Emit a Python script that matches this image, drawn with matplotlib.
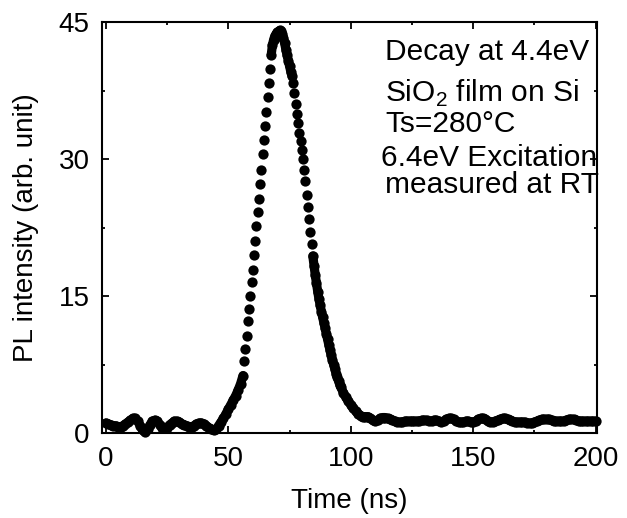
#
# PL decay trace of the 4.4 eV band (SiO2 film on Si)
#
import numpy as np
import matplotlib
matplotlib.use("Agg")
import matplotlib.pyplot as plt
from matplotlib.ticker import MultipleLocator

plt.rcParams["font.family"] = ["Liberation Sans", "DejaVu Sans"]
plt.rcParams["mathtext.fontset"] = "custom"
plt.rcParams["mathtext.rm"] = "Liberation Sans"

# Data
##########################################################################################

# baseline and start of the rise, 1 ns steps
t_rise = list(range(0, 56))
v_rise = [1.1, 1.0, 0.9, 0.8, 0.8, 0.7, 0.7, 0.8, 1.0, 1.2,
          1.4, 1.6, 1.6, 1.3, 0.8, 0.3, 0.1, 0.4, 0.9, 1.3,
          1.4, 1.3, 0.9, 0.6, 0.5, 0.6, 0.9, 1.1, 1.3, 1.3,
          1.2, 1.0, 0.9, 0.8, 0.7, 0.7, 0.8, 1.0, 1.1, 1.1,
          1.0, 0.8, 0.6, 0.4, 0.3, 0.4, 0.8, 1.2, 1.6, 2.1,
          2.6, 3.1, 3.6, 4.1, 4.7, 5.4]

# pulse, 0.5 ns steps (56 .. 95.5 ns)
t_pulse = [56 + 0.5 * k for k in range(80)]
v_pulse = [6.3, 7.9, 9.2, 10.6, 12.3, 13.6, 15.0, 16.6, 17.9, 19.5,
           21.0, 22.7, 24.2, 25.6, 27.3, 28.8, 30.6, 32.1, 33.6, 35.2,
           36.8, 38.3, 39.9, 41.4, 42.5, 43.1, 43.5, 43.7, 43.9, 44.0,
           44.1, 44.0, 43.7, 43.3, 42.7, 42.0, 41.4, 40.8, 40.2, 39.6,
           39.1, 38.3, 37.2, 36.1, 35.0, 34.0, 32.9, 32.0, 31.0, 30.0,
           28.8, 27.6, 26.1, 24.8, 23.4, 22.0, 20.7, 19.4, 18.3, 17.3,
           16.4, 15.5, 14.7, 14.0, 13.3, 12.7, 12.1, 11.5, 10.9, 10.3,
           9.7, 9.1, 8.5, 8.0, 7.5, 7.0, 6.5, 6.1, 5.7, 5.3]

# tail, 1 ns steps (96 .. 200 ns)
t_tail = list(range(96, 201))
v_tail = [5.0, 4.4, 3.9, 3.5, 3.1, 2.7, 2.4, 2.1, 1.9, 1.8,
          1.8, 1.8, 1.6, 1.4, 1.3, 1.4, 1.6, 1.7, 1.7, 1.6,
          1.5, 1.4, 1.3, 1.2, 1.2, 1.2, 1.3, 1.3, 1.3, 1.3,
          1.3, 1.3, 1.3, 1.4, 1.4, 1.4, 1.3, 1.3, 1.4, 1.4,
          1.3, 1.2, 1.3, 1.5, 1.6, 1.6, 1.5, 1.3, 1.2, 1.2,
          1.2, 1.3, 1.3, 1.2, 1.2, 1.3, 1.5, 1.6, 1.6, 1.5,
          1.3, 1.2, 1.2, 1.3, 1.4, 1.5, 1.6, 1.6, 1.5, 1.4,
          1.3, 1.2, 1.2, 1.2, 1.2, 1.2, 1.1, 1.1, 1.1, 1.2,
          1.3, 1.4, 1.5, 1.5, 1.5, 1.5, 1.4, 1.3, 1.3, 1.3,
          1.3, 1.3, 1.4, 1.5, 1.5, 1.5, 1.4, 1.3, 1.3, 1.3,
          1.3, 1.3, 1.3, 1.3, 1.3]

labels = ["Decay at 4.4eV", r"SiO$_2$ film on Si", "Ts=280\u00b0C",
          "6.4eV Excitation", "measured at RT"]

# Plot
##########################################################################################

t = np.array(t_rise + t_pulse + t_tail, dtype=float)
v = np.array(v_rise + v_pulse + v_tail)

fig = plt.figure(figsize=(6.27, 5.18), dpi=100)
ax = fig.add_axes([0.163, 0.164, 0.789, 0.793])

# where the printed dots ran together into a solid band
for lo, hi in [(0, 56), (67.5, 76), (84.5, 200)]:
    m = (t >= lo) & (t <= hi)
    ax.plot(t[m], v[m], "-", color="black", lw=6.6, solid_capstyle="round",
            solid_joinstyle="round", clip_on=False)
ax.plot(t, v, "o", color="black", markersize=7.4, markeredgewidth=0, clip_on=False)

ax.set_xlim(-1.5, 200.5)
ax.set_ylim(0, 45)
ax.xaxis.set_major_locator(MultipleLocator(50))
ax.xaxis.set_minor_locator(MultipleLocator(25))
ax.yaxis.set_major_locator(MultipleLocator(15))
ax.yaxis.set_minor_locator(MultipleLocator(7.5))
ax.tick_params(which="both", direction="in", top=True, right=True, width=1.3)
ax.tick_params(which="major", length=5, labelsize=20, pad=9)
ax.tick_params(which="minor", length=2.5)
for s in ax.spines.values():
    s.set_linewidth(1.5)

ax.set_xlabel("Time (ns)", fontsize=20, labelpad=12)
ax.set_ylabel("PL intensity (arb. unit)", fontsize=20, labelpad=14)

# legend text, positions in figure pixels (x, baseline)
pos = [(385, 60), (385, 102), (385, 132), (381, 166), (385, 193)]
for s, (px, py) in zip(labels, pos):
    fig.text(px / 627, 1 - py / 518, s, fontsize=21.5, va="baseline", ha="left")

fig.savefig("out.png", dpi=100)
